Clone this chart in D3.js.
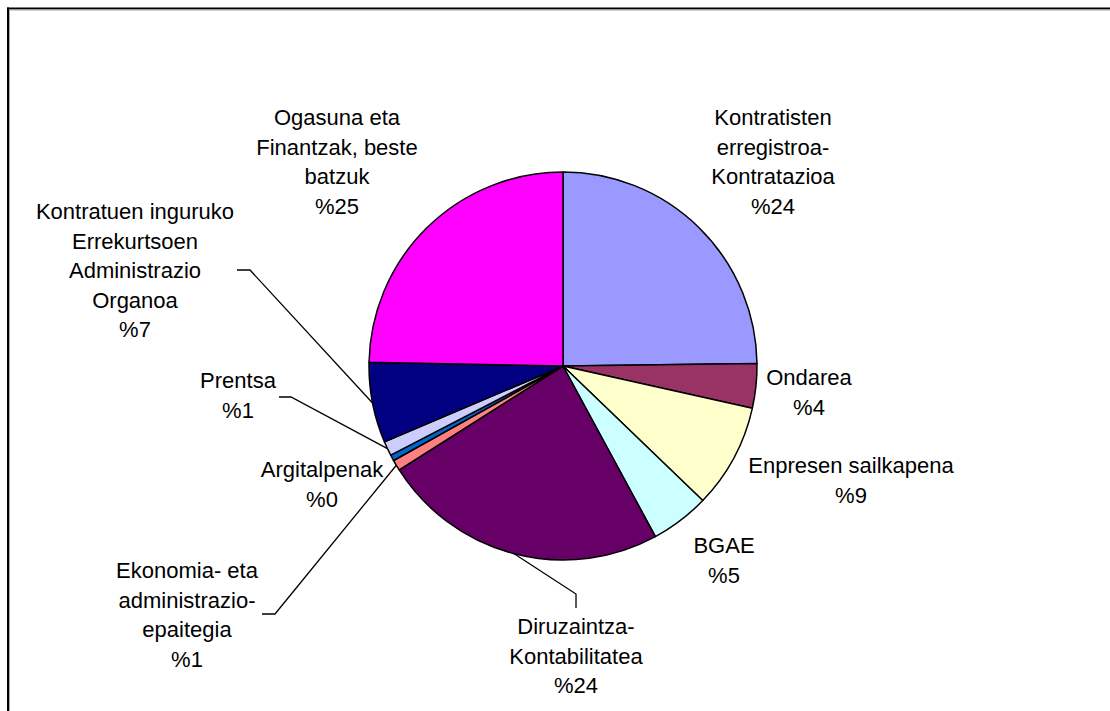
<!DOCTYPE html>
<html>
<head>
<meta charset="utf-8">
<script src="https://cdn.jsdelivr.net/npm/d3@7"></script>
<style>
  body { margin: 0; background: #fff; }
  svg { display: block; }
  text { font-family: "Liberation Sans", Arial, sans-serif; font-size: 22px; fill: #000; }
</style>
</head>
<body>
<svg width="1110" height="711"></svg>
<script>
// slice names (lines of each label), in clockwise order from 12 o'clock
var names = [
  ["Kontratisten", "erregistroa-", "Kontratazioa"],
  ["Ondarea"],
  ["Enpresen sailkapena"],
  ["BGAE"],
  ["Diruzaintza-", "Kontabilitatea"],
  ["Ekonomia- eta", "administrazio-", "epaitegia"],
  ["Argitalpenak"],
  ["Prentsa"],
  ["Kontratuen inguruko", "Errekurtsoen", "Administrazio", "Organoa"],
  ["Ogasuna eta", "Finantzak, beste", "batzuk"]
];
// shares (%)
var values = [24.8, 3.7, 8.7, 4.9, 23.9, 0.9, 0.5, 1.2, 6.7, 24.7];
// percent labels as printed
var pctLabels = ["%24", "%4", "%9", "%5", "%24", "%1", "%0", "%1", "%7", "%25"];
var colors = ["#9999FF", "#993366", "#FFFFCC", "#CCFFFF", "#660066",
              "#FF8080", "#0066CC", "#CCCCFF", "#000080", "#FF00FF"];

// label placement: centre x, first baseline, and optional leader start
var labelPos = [
  {x: 773, y: 125},
  {x: 809, y: 385},
  {x: 851, y: 473},
  {x: 724, y: 553},
  {x: 576, y: 634, lead: [[576, 608], [576, 594]]},
  {x: 187, y: 578, lead: [[262, 614], [275, 614]]},
  {x: 322, y: 477},
  {x: 238, y: 388, lead: [[279, 397], [291, 397]]},
  {x: 135, y: 219, lead: [[237, 270], [250, 270]]},
  {x: 337, y: 125}
];

var w = 1110, h = 711;
var cx = 563, cy = 366, r = 194;
var lineH = 29.6;

var svg = d3.select("svg");

// chart frame
svg.append("line").attr("x1", 7).attr("x2", w).attr("y1", 8.5).attr("y2", 8.5)
  .attr("stroke", "#000").attr("stroke-width", 2);
svg.append("line").attr("x1", 8).attr("x2", 8).attr("y1", 7.5).attr("y2", h)
  .attr("stroke", "#000").attr("stroke-width", 2);
svg.append("line").attr("x1", 9).attr("x2", w).attr("y1", 10).attr("y2", 10)
  .attr("stroke", "#aaa").attr("stroke-width", 1);
svg.append("line").attr("x1", 9.5).attr("x2", 9.5).attr("y1", 10).attr("y2", h)
  .attr("stroke", "#aaa").attr("stroke-width", 1);

var pie = d3.pie().sort(null).value(d => d);
var arcs = pie(values);

var arc = d3.arc().innerRadius(0).outerRadius(r);
var edge = d3.arc().innerRadius(r).outerRadius(r);

var g = svg.append("g").attr("transform", "translate(" + cx + "," + cy + ")");

g.selectAll("path")
  .data(arcs)
  .enter()
  .append("path")
  .attr("d", arc)
  .attr("fill", (d, i) => colors[i])
  .attr("stroke", "#000")
  .attr("stroke-width", 1.5)
  .attr("stroke-linejoin", "round");

// leader lines
arcs.forEach(function (d, i) {
  var p = labelPos[i];
  if (!p.lead) return;
  var c = edge.centroid(d);
  var pts = p.lead.concat([[cx + c[0], cy + c[1]]]);
  svg.append("path")
    .attr("d", d3.line()(pts))
    .attr("fill", "none")
    .attr("stroke", "#000")
    .attr("stroke-width", 1.3);
});

// labels
var labels = svg.append("g");
names.forEach(function (lines, i) {
  var p = labelPos[i];
  var t = labels.append("text")
    .attr("text-anchor", "middle")
    .attr("x", p.x)
    .attr("y", p.y);
  lines.concat([pctLabels[i]]).forEach(function (s, k) {
    t.append("tspan")
      .attr("x", p.x)
      .attr("y", p.y + k * lineH)
      .text(s);
  });
});
</script>
</body>
</html>
